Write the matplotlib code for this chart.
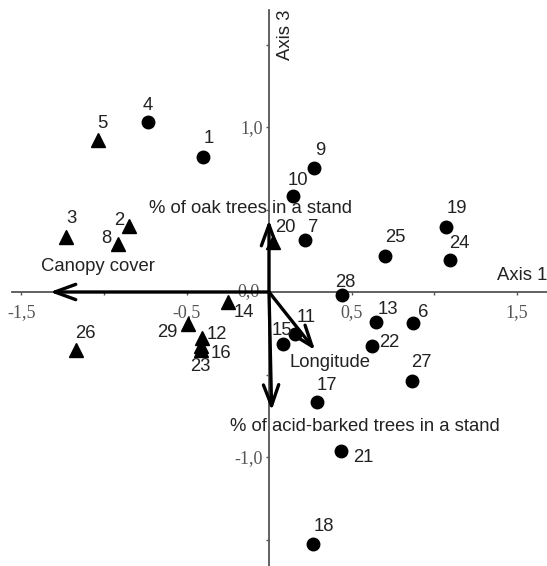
"""Biplot of sites on ordination axes 1 and 3 with environmental vectors."""

import matplotlib.pyplot as plt
from matplotlib.patches import FancyArrowPatch

# --- site scores (axis 1, axis 3); group: "c" = circle, "t" = triangle ---
SITE_IDS = list(range(1, 30))
SITE_AX1 = [-0.398, -0.847, -1.230, -0.733, -1.038, 0.875, 0.218, -0.917, 0.275, 0.143,
            0.158, -0.406, 0.648, -0.246, 0.087, -0.410, 0.289, 0.265, 1.071, 0.026,
            0.436, 0.622, -0.414, 1.097, 0.700, -1.170, 0.865, 0.440, -0.493]
SITE_AX3 = [0.820, 0.400, 0.335, 1.032, 0.921, -0.190, 0.315, 0.291, 0.750, 0.582,
            -0.256, -0.280, -0.180, -0.059, -0.317, -0.330, -0.665, -1.530, 0.396, 0.305,
            -0.962, -0.325, -0.350, 0.194, 0.218, -0.352, -0.539, -0.018, -0.194]
SITE_GROUP = ["c", "t", "t", "c", "t", "c", "c", "t", "c", "c",
              "c", "t", "c", "t", "c", "t", "c", "c", "c", "t",
              "c", "c", "t", "c", "c", "t", "c", "c", "t"]

# --- environmental vectors ---
VAR_NAMES = ["% of oak trees in a stand", "Canopy cover", "Longitude",
             "% of acid-barked trees in a stand"]
VAR_AX1 = [0.0, -1.327, 0.279, 0.016]
VAR_AX3 = [0.436, 0.0, -0.352, -0.718]

X_TICKS = [-1.5, -1.0, -0.5, 0.5, 1.0, 1.5]
X_TICK_LABELS = ["-1,5", "", "-0,5", "0,5", "", "1,5"]
Y_TICKS = [-1.5, -1.0, -0.5, 0.5, 1.0, 1.5]
Y_TICK_LABELS = ["", "-1,0", "", "", "1,0", ""]

# label offsets (points) for site numbers
LABEL_OFFSETS = {
    1: (4, 13), 2: (-7, 4), 3: (4, 13), 4: (0, 12), 5: (3, 12), 6: (7, 8),
    7: (6, 9), 8: (-8, 4), 9: (4, 13), 10: (4, 11), 11: (8, 12), 12: (11, 3),
    13: (9, 9), 14: (11, -8), 15: (-1, 10), 16: (14, -5), 17: (7, 12), 18: (8, 13),
    19: (8, 13), 20: (9, 10), 21: (16, -5), 22: (13, 2), 23: (0, -12), 24: (7, 12),
    25: (8, 13), 26: (7, 12), 27: (7, 13), 28: (3, 9), 29: (-15, -6),
}

# text positions for vector names and axis titles
VAR_TEXT_POS = [(-0.115, 0.509), (-1.036, 0.152), (0.367, -0.430), (0.579, -0.818)]

AXIS_COL = "#555555"
TEXT_COL = "#222222"
SANS = ["Liberation Sans", "DejaVu Sans"]
SERIF = ["Liberation Serif", "DejaVu Serif"]
LABEL_SIZE = 13.3

fig = plt.figure(figsize=(5.47, 5.66), dpi=100)
ax = fig.add_axes([0, 0, 1, 1])
ax.set_xlim(-1.6303, 1.6848)
ax.set_ylim(-1.6606, 1.7697)

# axes crossing at the origin
for side in ["top", "right"]:
    ax.spines[side].set_visible(False)
ax.spines["bottom"].set_position(("data", 0))
ax.spines["left"].set_position(("data", 0))
ax.spines["bottom"].set_bounds(-1.5576, 1.6848)
ax.spines["left"].set_bounds(-1.6606, 1.709)
for side in ["bottom", "left"]:
    ax.spines[side].set_color(AXIS_COL)
    ax.spines[side].set_linewidth(1.3)

ax.set_xticks(X_TICKS)
ax.set_xticklabels(X_TICK_LABELS, family=SERIF, fontsize=13, color=AXIS_COL)
ax.set_yticks(Y_TICKS)
ax.set_yticklabels(Y_TICK_LABELS, family=SERIF, fontsize=13, color=AXIS_COL)
ax.tick_params(axis="x", direction="out", length=2.5, width=1.0, color=AXIS_COL, pad=6)
ax.tick_params(axis="y", direction="out", length=2.5, width=1.0, color=AXIS_COL, pad=2)
ax.text(-0.127, 0.0, "0,0", family=SERIF, fontsize=13, color=AXIS_COL,
        ha="center", va="center")

# site markers
for gid, marker, ms in [("c", "o", 9), ("t", "^", 9.5)]:
    xs = [x for x, g in zip(SITE_AX1, SITE_GROUP) if g == gid]
    ys = [y for y, g in zip(SITE_AX3, SITE_GROUP) if g == gid]
    ax.plot(xs, ys, linestyle="none", marker=marker, markersize=ms,
            color="black", zorder=3)

for sid, x, y in zip(SITE_IDS, SITE_AX1, SITE_AX3):
    ax.annotate(str(sid), (x, y), xytext=LABEL_OFFSETS[sid], textcoords="offset points",
                ha="center", va="center", fontsize=LABEL_SIZE, family=SANS, color=TEXT_COL)

# environmental vectors
for name, vx, vy, (tx, ty) in zip(VAR_NAMES, VAR_AX1, VAR_AX3, VAR_TEXT_POS):
    arrow = FancyArrowPatch((0, 0), (vx, vy),
                            arrowstyle="->,head_length=15,head_width=5.5",
                            mutation_scale=1, lw=2.4, color="black",
                            shrinkA=0, shrinkB=0, zorder=4)
    ax.add_patch(arrow)
    ax.text(tx, ty, name, fontsize=LABEL_SIZE, family=SANS, color=TEXT_COL,
            ha="center", va="center", zorder=5)

ax.text(1.533, 0.097, "Axis 1", fontsize=LABEL_SIZE, family=SANS, color=TEXT_COL,
        ha="center", va="center")
ax.text(0.097, 1.558, "Axis 3", fontsize=LABEL_SIZE, family=SANS, color=TEXT_COL,
        ha="center", va="center", rotation=90)

fig.savefig("out.png", dpi=100)
